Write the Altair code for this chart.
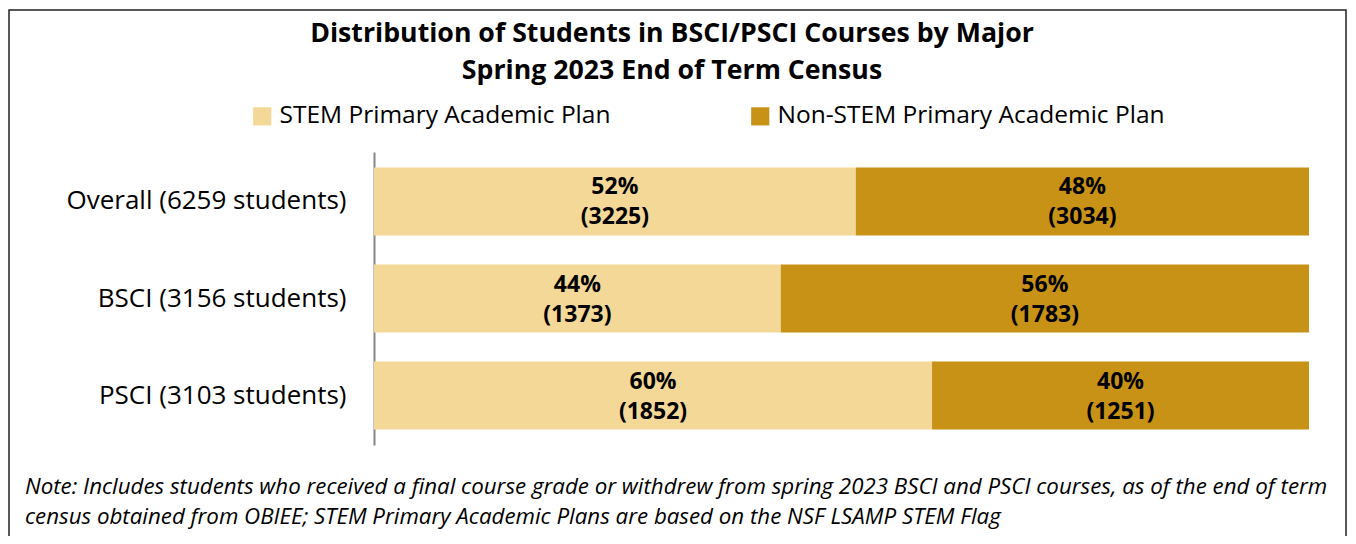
import altair as alt
import pandas as pd

FONT = "Open Sans"

categories = ["Overall (6259 students)", "BSCI (3156 students)", "PSCI (3103 students)"]
groups = ["STEM Primary Academic Plan", "Non-STEM Primary Academic Plan"]
stem_counts = [3225, 1373, 1852]
nonstem_counts = [3034, 1783, 1251]
stem_pct = [52, 44, 60]
nonstem_pct = [48, 56, 40]
colors = ["#F3D897", "#C79216"]

title_lines = ["Distribution of Students in BSCI/PSCI Courses by Major",
               "Spring 2023 End of Term Census"]
note_lines = ["Note: Includes students who received a final course grade or withdrew from spring 2023 BSCI and PSCI courses, as of the end of term",
              "census obtained from OBIEE; STEM Primary Academic Plans are based on the NSF LSAMP STEM Flag"]

rows = []
for i, c in enumerate(categories):
    rows.append({"category": c, "group": groups[0], "order": 0,
                 "count": stem_counts[i], "label": f"{stem_pct[i]}%\n({stem_counts[i]})"})
    rows.append({"category": c, "group": groups[1], "order": 1,
                 "count": nonstem_counts[i], "label": f"{nonstem_pct[i]}%\n({nonstem_counts[i]})"})
df = pd.DataFrame(rows)

W, H = 935, 293

base = (
    alt.Chart(df)
    .transform_joinaggregate(total="sum(count)", groupby=["category"])
    .transform_window(cum="sum(count)", sort=[{"field": "order"}],
                      groupby=["category"], frame=[None, 0])
    .transform_calculate(
        x0="(datum.cum - datum.count) / datum.total",
        x1="datum.cum / datum.total",
        mid="(datum.cum - datum.count / 2) / datum.total",
    )
)

yenc = alt.Y(
    "category:N", sort=categories,
    scale=alt.Scale(paddingInner=0.3, paddingOuter=0.16),
    axis=alt.Axis(title=None, ticks=False, labelFontSize=26, labelFont=FONT,
                  labelColor="black", labelPadding=28, domainColor="#868686",
                  domainWidth=2, labelLimit=0),
)
xscale = alt.Scale(domain=[0, 1], nice=False, zero=True)

bars = base.mark_bar().encode(
    x=alt.X("x0:Q", scale=xscale, axis=None),
    x2="x1:Q",
    y=yenc,
    color=alt.Color(
        "group:N", sort=groups,
        scale=alt.Scale(domain=groups, range=colors),
        legend=alt.Legend(title=None, orient="none", legendX=-124, legendY=-48,
                          direction="horizontal", symbolType="square",
                          symbolSize=330, symbolStrokeWidth=0, labelFontSize=24.5,
                          labelFont=FONT, labelColor="black", columnPadding=137,
                          labelLimit=0, labelOffset=5),
    ),
)

labels = base.mark_text(fontWeight="bold", fontSize=23, font=FONT, lineBreak="\n",
                        lineHeight=30, baseline="middle", dy=-14, color="black").encode(
    x=alt.X("mid:Q", scale=xscale),
    y=alt.Y("category:N", sort=categories),
    text="label:N",
)

title = alt.Chart(pd.DataFrame({"t": ["\n".join(title_lines)]})).mark_text(
    fontWeight="bold", fontSize=26.7, font=FONT, lineBreak="\n", lineHeight=37,
    baseline="top", align="center", color="black",
).encode(x=alt.value(298), y=alt.value(-131), text="t:N")

note = alt.Chart(pd.DataFrame({"t": ["\n".join(note_lines)]})).mark_text(
    fontStyle="italic", fontSize=22.3, font=FONT, lineBreak="\n", lineHeight=30,
    baseline="top", align="left", color="black",
).encode(x=alt.value(-349), y=alt.value(324), text="t:N")

border = alt.Chart(pd.DataFrame({"b": [0]})).mark_rect(
    filled=False, stroke="#222222", strokeWidth=1.5,
).encode(x=alt.value(-365), x2=alt.value(972), y=alt.value(-142), y2=alt.value(420))

chart = alt.layer(border, bars, labels, title, note).properties(
    width=W, height=H,
    autosize=alt.AutoSizeParams(type="none"),
    padding={"left": 366, "top": 144, "right": 39, "bottom": 91},
).configure_view(stroke=None)

chart.save("out.html", embed_options={"renderer": "svg", "actions": False})
